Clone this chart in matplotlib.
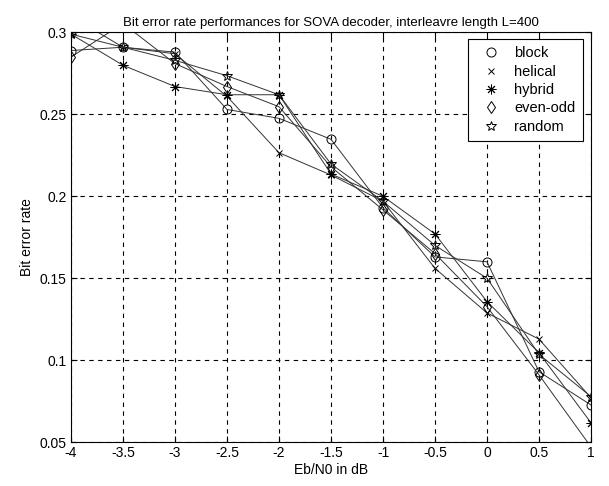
import matplotlib
matplotlib.use("Agg")
import matplotlib.pyplot as plt
from matplotlib.lines import Line2D

plt.rcParams['font.family'] = ['Liberation Sans', 'DejaVu Sans']

ebn0 = [-4, -3.5, -3, -2.5, -2, -1.5, -1, -0.5, 0, 0.5, 1]
block = [0.289, 0.291, 0.288, 0.253, 0.2476, 0.2348, 0.193, 0.163, 0.160, 0.0929, 0.0726]
helical = [0.310, 0.291, 0.287, 0.261, 0.2266, 0.213, 0.197, 0.156, 0.1288, 0.1128, 0.077]
hybrid = [0.299, 0.280, 0.267, 0.262, 0.262, 0.2136, 0.200, 0.177, 0.1357, 0.1045, 0.0617]
even_odd = [0.285, 0.3055, 0.281, 0.267, 0.2547, 0.218, 0.1917, 0.165, 0.1326, 0.091, 0.047]
random_ = [0.299, 0.291, 0.283, 0.2736, 0.262, 0.2197, 0.197, 0.170, 0.150, 0.1035, 0.0777]

names = ['block', 'helical', 'hybrid', 'even-odd', 'random']
series = [block, helical, hybrid, even_odd, random_]
markers = ['o', 'x', (8, 2, 0), 'd', '*']
msizes = [6.5, 5, 7, 6.5, 7]

xticks = [-4, -3.5, -3, -2.5, -2, -1.5, -1, -0.5, 0, 0.5, 1]
xticklabels = ['-4', '-3.5', '-3', '-2.5', '-2', '-1.5', '-1', '-0.5', '0', '0.5', '1']
yticks = [0.05, 0.1, 0.15, 0.2, 0.25, 0.3]
yticklabels = ['0.05', '0.1', '0.15', '0.2', '0.25', '0.3']

FS = 10

fig = plt.figure(figsize=(6.09, 4.86), dpi=100)
ax = fig.add_axes([71 / 609, 44 / 486, 520 / 609, 409.5 / 486])

handles = []
for ys, m, ms, name in zip(series, markers, msizes, names):
    ax.plot(ebn0, ys, color='#333333', lw=0.7, marker=m, ms=ms,
            mfc='none', mec='black', mew=0.7, clip_on=True)
    handles.append(Line2D([], [], linestyle='none', marker=m, ms=ms,
                          mfc='none', mec='black', mew=0.7, label=name))

ax.set_xlim(-4, 1)
ax.set_ylim(0.05, 0.3)
ax.set_xticks(xticks)
ax.set_xticklabels(xticklabels)
ax.set_yticks(yticks)
ax.set_yticklabels(yticklabels)
ax.tick_params(direction='in', length=4, width=0.8, labelsize=FS,
               top=True, right=True, colors='black', pad=3)
ax.grid(True, color='black', linestyle=(0, (4, 4)), linewidth=0.8)
for s in ax.spines.values():
    s.set_color('black')
    s.set_linewidth(0.8)

ax.set_title('Bit error rate performances for SOVA decoder, interleavre length L=400',
             fontsize=9.5, pad=5)
ax.set_xlabel('Eb/N0 in dB', fontsize=FS, labelpad=2)
ax.set_ylabel('Bit error rate', fontsize=FS, labelpad=4)

leg = ax.legend(handles=handles, loc='upper right', fontsize=10.5,
                frameon=True, fancybox=False, edgecolor='black',
                framealpha=1, borderpad=0.5, handlelength=2.2,
                handletextpad=0.5, labelspacing=0.3, borderaxespad=0,
                bbox_to_anchor=(1 - 8 / 520, 1 - 6.5 / 409.5))
leg.get_frame().set_linewidth(0.8)

fig.savefig('out.png', dpi=100)
